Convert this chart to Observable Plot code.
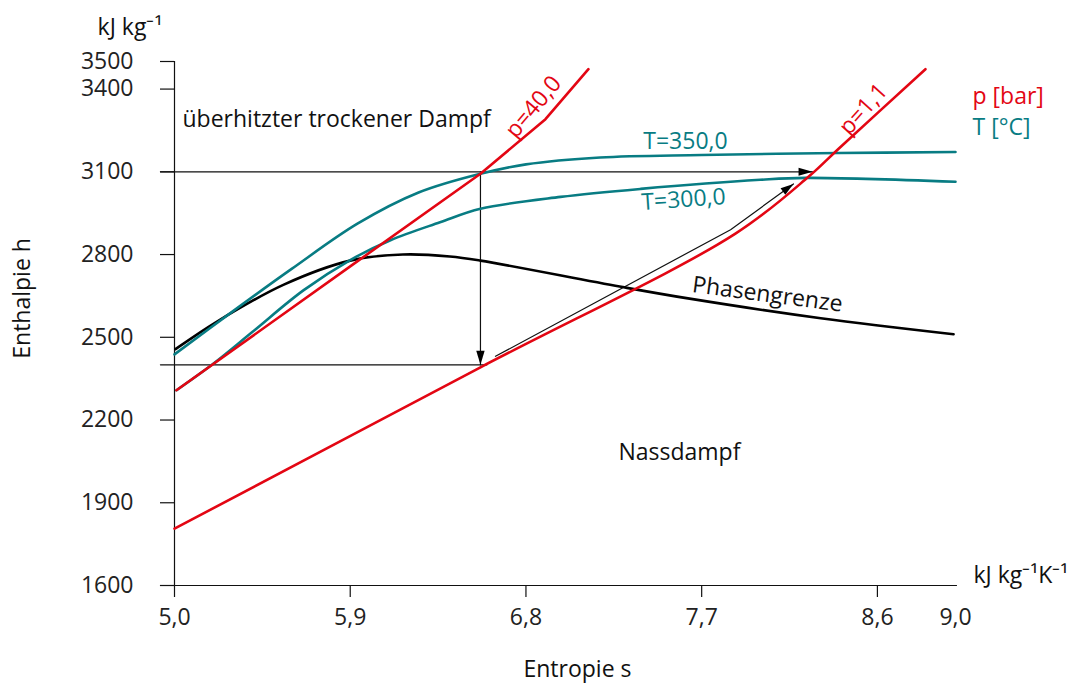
<!DOCTYPE html>
<html><head><meta charset="utf-8">
<script src="https://cdn.jsdelivr.net/npm/d3@7"></script>
<script src="https://cdn.jsdelivr.net/npm/@observablehq/plot@0.6"></script>
<style>body{margin:0;background:#fff}</style>
</head><body><div id="chart"></div>
<script>
const RED = "#e30613", TEAL = "#087c83";
const xTickVals = [5.0, 5.9, 6.8, 7.7, 8.6];
const xLabelVals = [5.0, 5.9, 6.8, 7.7, 8.6, 9.0];
const yTickVals = [1600, 1900, 2200, 2500, 2800, 3100, 3400, 3500];

// isobars (red)
const sP40 = [5.01, 5.9, 6.567, 6.9, 7.12];
const hP40 = [2308, 2757, 3093, 3291, 3472];
const sP11 = [5.0, 6.567, 7.873, 8.247, 8.40, 8.846];
const hP11 = [1806, 2391, 2876, 3082, 3183, 3472];
// isotherms (teal)
const sT350 = [5.0, 5.3, 5.6, 5.937, 6.25, 6.567, 6.8, 7.18, 7.7, 8.4, 9.0];
const hT350 = [2438, 2595, 2748, 2912, 3025, 3093, 3127, 3152, 3161, 3168, 3172];
const sT300 = [5.01, 5.2, 5.4, 5.66, 5.9, 6.106, 6.36, 6.567, 6.977, 7.387, 8.0, 8.232, 9.0];
const hT300 = [2308, 2405, 2520, 2670, 2780, 2852, 2917, 2966, 3009, 3038, 3071, 3078, 3064];
// phase boundary (black)
const sPhase = [5.005, 5.22, 5.56, 5.90, 6.17, 6.41, 6.567, 7.28, 7.63, 8.31, 8.99];
const hPhase = [2457, 2558, 2691, 2778, 2800, 2793, 2778, 2684, 2641, 2569, 2511];
// process path (thin black)
const sRef3100 = [4.928, 8.268];  const hRef3100 = [3100, 3100];
const sRef2400 = [4.928, 6.60];   const hRef2400 = [2400, 2400];
const sDown = [6.567, 6.567];     const hDown = [3100, 2400];
const sDiag = [6.644, 7.848, 8.17]; const hDiag = [2431, 2890, 3056];

// annotations
const annText = ["p=40,0", "p=1,1", "T=350,0", "T=300,0", "Phasengrenze", "Nassdampf"];
const annS = [6.839, 8.529, 7.617, 7.607, 8.037, 7.586];
const annH = [3335, 3327, 3208, 2999, 2655, 2081];
const annColor = [RED, RED, TEAL, TEAL, "#111", "#111"];
const annRotate = [-50, -48, 0, -4, 7.5, 0];

const zip = (s, h) => s.map((v, i) => ({s: v, h: h[i]}));
const fmtX = d => d.toFixed(1).replace(".", ",");

const headDown = {draw(c) { c.moveTo(0, 0); c.lineTo(-4.2, -14); c.lineTo(4.2, -14); c.closePath(); }};
const headRight = {draw(c) { c.moveTo(0, 0); c.lineTo(-14, -4); c.lineTo(-14, 4); c.closePath(); }};
const headDiag = {draw(c) {
  const a = -36 * Math.PI / 180, ca = Math.cos(a), sa = Math.sin(a);
  const pts = [[-13, -4], [-13, 4]].map(([x, y]) => [x * ca - y * sa, x * sa + y * ca]);
  c.moveTo(0, 0); c.lineTo(pts[0][0], pts[0][1]); c.lineTo(pts[1][0], pts[1][1]); c.closePath();
}};

const ann = annText.map((t, i) => ({t, s: annS[i], h: annH[i], c: annColor[i], r: annRotate[i]}));

const thin = {x: "s", y: "h", stroke: "#111", strokeWidth: 1.2};
const FS = 23;

const chart = Plot.plot({
  width: 1067, height: 684,
  marginLeft: 174, marginRight: 112, marginTop: 61, marginBottom: 99,
  style: {fontFamily: "'Open Sans', sans-serif", fontSize: FS + "px", color: "#222", background: "#fff"},
  x: {domain: [5, 9]},
  y: {domain: [1600, 3500]},
  marks: [
    Plot.axisY({ticks: yTickVals, tickSize: 14, tickPadding: 27, tickFormat: d => String(d), label: null, stroke: "#111", strokeWidth: 1.2, fontSize: FS}),
    Plot.axisX({ticks: xTickVals, tickSize: 12, tickFormat: () => "", label: null, stroke: "#111", strokeWidth: 1.2}),
    Plot.axisX({ticks: xLabelVals, tickSize: 0, tickPadding: 23, tickFormat: fmtX, label: null, fontSize: FS}),
    Plot.ruleX([5], {y1: 1600, y2: 3500, stroke: "#111", strokeWidth: 1.2}),
    Plot.ruleY([1600], {x1: 4.928, x2: 9.01, stroke: "#111", strokeWidth: 1.2}),
    Plot.line(zip(sRef3100, hRef3100), thin),
    Plot.line(zip(sRef2400, hRef2400), thin),
    Plot.line(zip(sDown, hDown), thin),
    Plot.line(zip(sDiag, hDiag), thin),
    Plot.line(zip(sPhase, hPhase), {x: "s", y: "h", stroke: "#000", strokeWidth: 2.6, curve: "catmull-rom"}),
    Plot.line(zip(sT350, hT350), {x: "s", y: "h", stroke: TEAL, strokeWidth: 2.6, curve: "catmull-rom"}),
    Plot.line(zip(sT300, hT300), {x: "s", y: "h", stroke: TEAL, strokeWidth: 2.6, curve: "catmull-rom"}),
    Plot.line(zip(sP40, hP40), {x: "s", y: "h", stroke: RED, strokeWidth: 2.6}),
    Plot.line(zip(sP11, hP11), {x: "s", y: "h", stroke: RED, strokeWidth: 2.6, curve: "catmull-rom"}),
    Plot.dot([{s: sDown[1], h: hDown[1]}], {x: "s", y: "h", symbol: headDown, fill: "#000", stroke: null}),
    Plot.dot([{s: sRef3100[1], h: hRef3100[1]}], {x: "s", y: "h", symbol: headRight, fill: "#000", stroke: null}),
    Plot.dot([{s: sDiag[2], h: hDiag[2]}], {x: "s", y: "h", symbol: headDiag, fill: "#000", stroke: null}),
    ...ann.map(a => Plot.text([a], {x: "s", y: "h", text: "t", fill: a.c, rotate: a.r, fontSize: FS})),
    Plot.text(["überhitzter trockener Dampf"], {x: 5.041, y: 3291, text: d => d, textAnchor: "start", fill: "#111", fontSize: FS}),
    Plot.text(["p [bar]"], {x: 9.087, y: 3371, text: d => d, textAnchor: "start", fill: RED, fontSize: FS}),
    Plot.text(["T [°C]"], {x: 9.087, y: 3259, text: d => d, textAnchor: "start", fill: TEAL, fontSize: FS}),
    Plot.text(["kJ kg⁻¹"], {x: 4.606, y: 3624, text: d => d, textAnchor: "start", fill: "#111", fontSize: FS}),
    Plot.text(["kJ kg⁻¹K⁻¹"], {x: 9.092, y: 1636, text: d => d, textAnchor: "start", fill: "#111", fontSize: FS}),
    Plot.text(["Entropie s"], {x: 7.064, y: 1295, text: d => d, fill: "#111", fontSize: FS}),
    Plot.text(["Enthalpie h"], {x: 4.222, y: 2641, text: d => d, rotate: -90, fill: "#111", fontSize: FS})
  ]
});
document.getElementById("chart").append(chart);
</script>
</body></html>
